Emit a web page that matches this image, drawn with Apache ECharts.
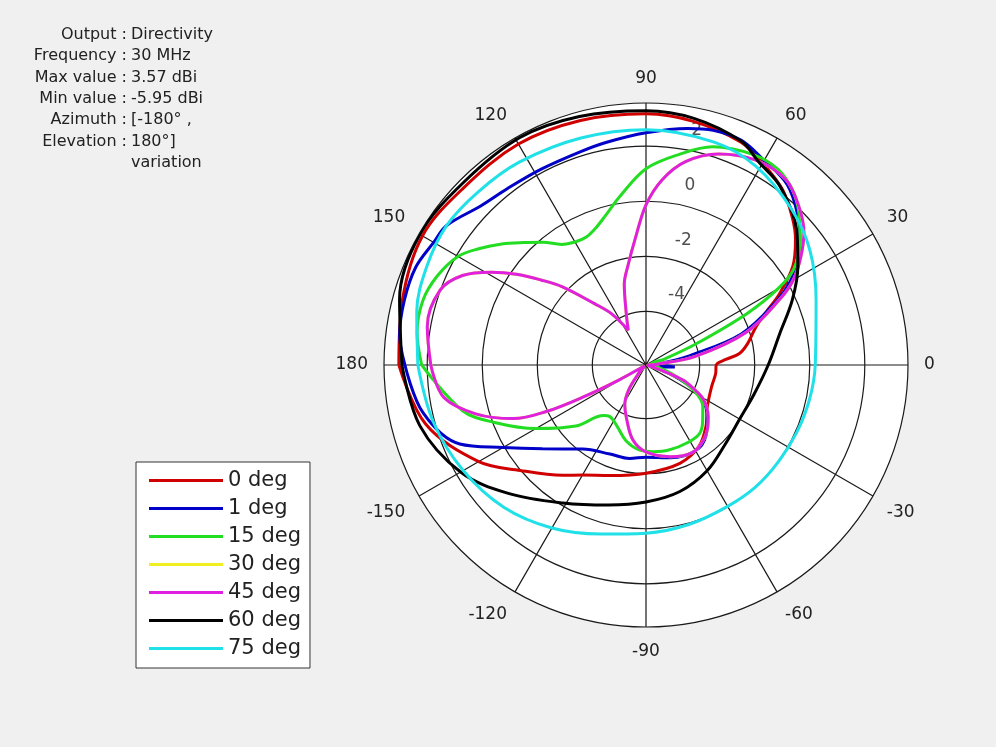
<!DOCTYPE html>
<html>
<head>
<meta charset="utf-8">
<style>
  html, body { margin: 0; padding: 0; background: #f0f0f0; }
  #chart { width: 996px; height: 747px; }
</style>
<script src="https://cdn.jsdelivr.net/npm/echarts@6/dist/echarts.min.js"></script>
</head>
<body>
<div id="chart"></div>
<script>
'use strict';

// info block (top left)
const infoKeys = ['Output', 'Frequency', 'Max value', 'Min value', 'Azimuth', 'Elevation', ''];
const infoVals = ['Directivity', '30 MHz', '3.57 dBi', '-5.95 dBi', '[-180° ,', '180°]', 'variation'];

// radial range (dBi) and ring ticks
const rMin = -5.95;
const rMax = 3.57;
const ringTicks = [-4, -2, 0, 2];

const names = ['0 deg', '1 deg', '15 deg', '30 deg', '45 deg', '60 deg', '75 deg'];
const colors = ['#d00000', '#0000c8', '#22dd22', '#f0f020', '#e020e0', '#000000', '#20e0e8'];

// azimuth (deg) and directivity (dBi)
const angRed = [-180, -165, -150, -140, -127, -120, -108, -90, -71, -57, -46, -34, -18, -7, 0, 4, 7, 12, 19, 24, 28, 34, 40, 45, 52, 60, 67, 79, 90, 105, 120, 136, 150, 165, 180];
const dbRed = [3.03, 2.34, 1.07, 0.01, -0.93, -1.33, -1.73, -2.02, -2.17, -2.42, -2.82, -3.26, -3.44, -3.40, -3.40, -3.04, -2.53, -2.17, -1.73, -1.15, -0.46, 0.49, 1.14, 1.58, 2.12, 2.52, 2.85, 3.07, 3.18, 3.25, 3.32, 3.29, 3.43, 3.21, 3.03];

const angBlue = [-180, -168, -157, -150, -141, -127, -112, -100, -90, -75, -60, -50, -40, -31, -25, -20, -14, -8, -4, -1, 3, 8, 12, 18, 26, 30, 35, 39, 45, 52, 60, 67, 74, 80, 90, 100, 107, 118, 128, 136, 145, 150, 157, 165, 173, 180];
const dbBlue = [2.81, 2.34, 1.40, 0.05, -1.11, -2.13, -2.46, -2.50, -2.60, -2.46, -2.35, -2.57, -3.04, -3.59, -4.31, -5.04, -5.66, -5.51, -4.90, -5.40, -5.77, -5.22, -4.31, -2.31, -0.68, 0.09, 0.81, 1.25, 1.83, 2.38, 2.63, 2.92, 2.92, 2.78, 2.49, 2.27, 2.16, 2.12, 2.20, 2.38, 2.89, 2.96, 3.14, 3.14, 3.07, 2.81];

const angGreen = [-180, -166, -159, -150, -139, -130, -125, -115, -105, -95, -85, -75, -62, -52, -45, -36, -28, -20, -10, 0, 10, 18, 23, 27, 30, 33, 39, 45, 50, 56, 63, 73, 81, 90, 99, 105, 110, 115, 120, 125, 130, 135, 140, 145, 150, 157, 164, 172, 180];
const dbGreen = [2.20, 0.92, -0.10, -1.33, -2.57, -3.55, -3.66, -3.48, -3.11, -2.86, -2.79, -2.75, -2.75, -2.79, -3.04, -3.40, -3.99, -4.86, -5.51, -5.77, -5.77, -5.22, -3.95, -1.84, -0.42, 0.45, 1.25, 1.90, 2.34, 2.63, 2.63, 2.34, 1.80, 1.18, 0.23, -0.31, -0.64, -0.82, -0.79, -0.60, -0.13, 0.34, 0.89, 1.43, 1.94, 2.30, 2.49, 2.45, 2.20];

const angMagenta = [-180, -171, -164, -158, -155, -153, -151, -148, -140, -132, -125, -118, -110, -100, -90, -75, -62, -52, -44, -40, -31, -26, -22, -19, -15, -5, 3, 10, 18, 26, 30, 35, 40, 46, 53, 62, 71, 79, 85, 90, 95, 100, 105, 111, 117, 124, 130, 137, 141, 145, 149, 154, 160, 170, 180];
const dbMagenta = [1.87, 1.50, 0.49, -0.75, -1.95, -3.40, -4.86, -5.84, -5.88, -5.59, -4.86, -4.31, -3.88, -3.19, -2.79, -2.50, -2.35, -2.53, -2.82, -3.00, -3.51, -4.06, -4.50, -5.30, -5.80, -5.88, -5.59, -4.13, -2.13, -0.57, 0.23, 0.92, 1.54, 2.05, 2.49, 2.49, 2.16, 1.58, 0.81, -0.13, -1.37, -2.24, -2.90, -3.95, -4.53, -3.70, -3.04, -1.77, -1.04, -0.20, 0.60, 1.47, 2.01, 2.12, 1.87];

// 30 deg lies under 45 deg everywhere, so it is not visible
const angYellow = angMagenta;
const dbYellow = dbMagenta;

const angBlack = [-180, -165, -150, -137, -121, -105, -90, -75, -60, -45, -30, -15, 0, 13, 24, 33, 41, 53, 61, 67, 79, 90, 105, 119, 135, 150, 165, 180];
const dbBlack = [2.92, 2.56, 1.83, 0.89, -0.10, -0.68, -0.97, -1.19, -1.51, -1.88, -2.02, -1.88, -1.51, -0.97, -0.13, 0.63, 1.32, 2.16, 2.49, 2.89, 3.18, 3.29, 3.40, 3.50, 3.43, 3.54, 3.32, 2.92];

const angCyan = [-180, -165, -150, -135, -120, -105, -90, -75, -60, -48, -36, -24, -12, 0, 21, 35, 47, 61, 73, 90, 106, 122, 134, 145, 156, 167, 180];
const dbCyan = [2.34, 2.05, 1.72, 1.36, 0.89, 0.41, 0.16, 0.05, -0.02, 0.01, 0.01, 0.05, 0.12, 0.20, 0.67, 1.32, 1.80, 2.30, 2.52, 2.60, 2.63, 2.74, 2.81, 2.89, 2.78, 2.60, 2.34];

const curves = [
    [angRed, dbRed], [angBlue, dbBlue], [angGreen, dbGreen], [angYellow, dbYellow],
    [angMagenta, dbMagenta], [angBlack, dbBlack], [angCyan, dbCyan]
];

const chart = echarts.init(document.getElementById('chart'));
const FONT = 'DejaVu Sans';
const CENTER = [646, 365];
const RADIUS = 262;
const GRID = { color: '#1a1a1a', width: 1.2 };

// pattern lines (on polar 1; polar 0 only paints the white disc)
const arrSeries = curves.map(([arrAng, arrDb], i) => ({
    name: names[i],
    type: 'line',
    coordinateSystem: 'polar',
    polarIndex: 1,
    smooth: 0.35,
    showSymbol: false,
    lineStyle: { width: 3, color: colors[i] },
    itemStyle: { color: colors[i] },
    data: arrAng.map((a, k) => [arrDb[k], a])
}));

// ring labels sit between the 60 and 90 spokes
arrSeries.unshift({
    type: 'scatter',
    coordinateSystem: 'polar',
    polarIndex: 1,
    silent: true,
    symbolSize: 1,
    itemStyle: { color: 'rgba(0,0,0,0)' },
    data: ringTicks.map(v => [v, 83]),
    label: {
        show: true,
        position: 'inside',
        offset: [24, -17],
        formatter: p => String(p.value[0]),
        fontSize: 17,
        fontFamily: FONT,
        color: '#222'
    }
});

// info text, two columns
const arrInfo = [];
infoKeys.forEach((k, i) => {
    const y = 35 + i * 21.3;
    if (k) {
        arrInfo.push({
            type: 'text', x: 127, y: y, silent: true,
            style: { text: k + ' :', align: 'right', verticalAlign: 'middle', font: '16px ' + FONT, fill: '#222' }
        });
    }
    arrInfo.push({
        type: 'text', x: 131, y: y, silent: true,
        style: { text: infoVals[i], align: 'left', verticalAlign: 'middle', font: '16px ' + FONT, fill: '#222' }
    });
});

const option = {
    backgroundColor: '#f0f0f0',
    animation: false,
    polar: [
        { center: CENTER, radius: RADIUS },
        { center: CENTER, radius: RADIUS }
    ],
    angleAxis: [{
        polarIndex: 0,
        z: 0,
        type: 'value',
        min: -180,
        max: 180,
        interval: 30,
        startAngle: 180,
        clockwise: false,
        axisLine: { show: false },
        axisTick: { show: false },
        axisLabel: { show: false },
        splitLine: { show: false },
        splitArea: { show: true, areaStyle: { color: ['#ffffff'] } }
    }, {
        polarIndex: 1,
        z: 1,
        type: 'value',
        min: -180,
        max: 180,
        interval: 30,
        startAngle: 180,
        clockwise: false,
        axisLine: { show: true, lineStyle: GRID },
        axisTick: { show: false },
        axisLabel: {
            margin: 16,
            fontSize: 17,
            fontFamily: FONT,
            color: '#222',
            formatter: v => (v === -180 ? '180' : String(v))
        },
        splitLine: { show: true, lineStyle: GRID },
        splitArea: { show: false }
    }],
    radiusAxis: [{
        polarIndex: 0,
        z: 0,
        type: 'value',
        min: rMin,
        max: rMax,
        axisLine: { show: false },
        axisTick: { show: false },
        axisLabel: { show: false },
        splitLine: { show: false }
    }, {
        polarIndex: 1,
        z: 1,
        type: 'value',
        min: rMin,
        max: rMax,
        axisLine: { show: false },
        axisTick: { show: false, customValues: ringTicks },
        axisLabel: { show: false, customValues: ringTicks },
        splitLine: { show: true, lineStyle: GRID }
    }],
    legend: {
        data: names,
        orient: 'vertical',
        left: 136,
        top: 462,
        icon: 'rect',
        itemWidth: 74,
        itemHeight: 3,
        itemGap: 7,
        padding: [8, 9, 9, 13],
        backgroundColor: '#ffffff',
        borderColor: '#333',
        borderWidth: 1,
        borderRadius: 0,
        selectedMode: false,
        textStyle: { fontSize: 21, lineHeight: 21, fontFamily: FONT, color: '#222' }
    },
    graphic: arrInfo,
    series: arrSeries
};

chart.setOption(option);
</script>
</body>
</html>
